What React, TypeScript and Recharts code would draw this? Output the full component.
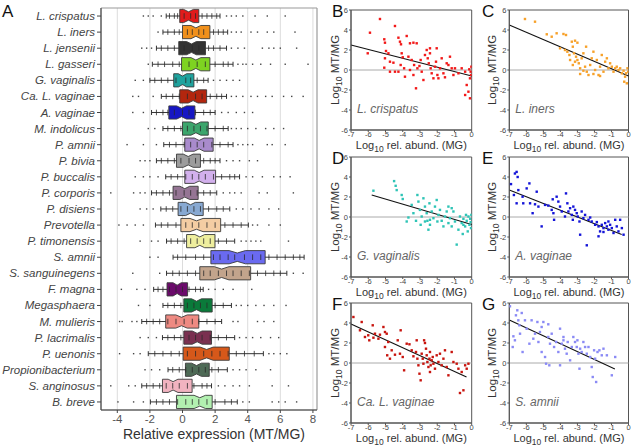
import React from "react";
import {
  BarChart,
  Bar,
  XAxis,
  YAxis,
  CartesianGrid,
  ReferenceArea,
  ReferenceLine,
  ScatterChart,
  Scatter,
} from "recharts";

const FONT = "'Liberation Sans', Arial, Helvetica, sans-serif";

// ---- panel A: relative expression per taxon ----
const species = [
  "L. crispatus", "L. iners", "L. jensenii", "L. gasseri", "G. vaginalis",
  "Ca. L. vaginae", "A. vaginae", "M. indolicus", "P. amnii", "P. bivia",
  "P. buccalis", "P. corporis", "P. disiens", "Prevotella", "P. timonensis",
  "S. amnii", "S. sanguinegens", "F. magna", "Megasphaera", "M. mulieris",
  "P. lacrimalis", "P. uenonis", "Propionibacterium", "S. anginosus", "B. breve",
];

const boxColors = [
  "#e01b1b", "#f0901c", "#333333", "#7ed321", "#1fa39e",
  "#b3260e", "#1717c4", "#3ca56c", "#a98bcc", "#9c9c9c",
  "#d2b0ec", "#957594", "#88a9d2", "#f4cda3", "#eeee9e",
  "#6a6af0", "#c2a48c", "#6b0b6b", "#0a7a3a", "#ee8a82",
  "#7a3050", "#d6581a", "#4e6a56", "#f1b3c0", "#b2f0b0",
];

const q1 = [-0.17, 0.0, -0.23, -0.06, -0.54, -0.17, -0.84, 0.0, 0.14, -0.37, 0.14, -0.58, -0.27, -0.1, 0.25, 1.74, 1.06, -0.95, 0.08, -1.03, 0.08, 0.04, 0.18, -1.23, -0.37];
const median = [0.37, 0.82, 0.55, 0.82, 0.0, 0.65, -0.06, 0.82, 1.02, 0.35, 1.02, 0.14, 0.49, 0.86, 1.06, 3.36, 2.4, -0.33, 0.86, -0.06, 0.9, 1.48, 0.86, -0.58, 1.06];
const q3 = [1.0, 1.68, 1.41, 1.68, 0.7, 1.48, 0.76, 1.58, 1.88, 1.1, 2.03, 0.96, 1.27, 2.34, 1.99, 5.07, 4.18, 0.31, 1.82, 1.0, 1.78, 2.87, 1.64, 0.59, 1.82];
const whiskerLo = [-1.0, -1.2, -1.6, -1.85, -2.0, -1.3, -1.9, -1.2, -1.15, -1.6, -1.03, -1.9, -1.33, -1.66, -0.98, -0.58, -0.98, -1.77, -1.2, -2.5, -1.23, -2.1, -0.89, -2.5, -1.97];
const whiskerHi = [2.3, 2.77, 2.7, 3.1, 1.57, 2.7, 2.0, 2.8, 3.1, 2.3, 3.5, 2.1, 2.9, 4.04, 3.2, 7.46, 6.4, 1.27, 3.0, 2.4, 3.2, 4.96, 2.75, 1.78, 3.36];
const notch = [0.3, 0.3, 0.3, 0.3, 0.25, 0.3, 0.3, 0.3, 0.3, 0.3, 0.3, 0.3, 0.3, 0.4, 0.3, 0.5, 0.45, 0.25, 0.3, 0.35, 0.3, 0.4, 0.3, 0.3, 0.35];

const samplePoints: number[][] = [
  [-2.4, -2.1, -1.8, -1.3, -0.8, -0.5, -0.3, 0.1, 0.5, 0.8, 1.2, 1.5, 1.8, 2.1, 2.7, 3.0, 3.3, 3.7, 4.45, 5.2, 6.3],
  [-1.5, -0.9, -0.5, -0.2, 0.3, 0.6, 1.0, 1.3, 1.9, 2.2, 2.5, 3.0, 3.3, 3.6, 4.2, 4.6, 5.2, 5.6, 6.9],
  [-2.5, -2.2, -1.9, -1.3, -0.9, -0.5, 0.1, 0.6, 1.0, 1.6, 1.9, 2.3, 3.0, 3.4, 3.8, 4.9, 5.3, 5.6, 6.0, 7.0],
  [-2.1, -1.5, -1.1, -0.6, -0.2, 0.4, 0.9, 1.4, 2.0, 2.5, 2.8, 3.4, 3.7, 3.9, 4.3, 4.8, 5.4, 6.3, 7.7],
  [-2.9, -2.4, -1.7, -1.3, -0.9, -0.4, 0.2, 0.5, 0.9, 1.3, 1.9, 2.3, 2.7, 3.1, 3.5],
  [-3.05, -2.7, -1.8, -1.0, -0.6, -0.2, 0.3, 0.8, 1.2, 1.7, 2.1, 2.4, 3.0, 3.3, 3.7, 4.2, 4.6, 5.1, 5.5, 6.2, 6.7, 7.4],
  [-3.05, -2.4, -1.6, -1.2, -0.9, -0.5, 0.0, 0.4, 0.8, 1.3, 1.7, 2.4, 2.8, 3.3, 3.8, 4.3],
  [-2.1, -1.7, -0.9, -0.5, -0.1, 0.3, 0.7, 1.1, 1.5, 2.0, 2.5, 3.0, 3.3, 3.6, 4.0, 4.5, 5.1, 5.6, 6.2],
  [-3.4, -2.4, -1.6, -0.8, -0.4, 0.1, 0.5, 0.9, 1.3, 1.8, 2.3, 2.8, 3.4, 3.7, 4.0, 4.3, 5.2, 5.5, 6.3],
  [-2.6, -2.3, -2.0, -1.3, -0.9, -0.5, -0.1, 0.4, 0.8, 1.3, 1.7, 2.0, 2.7, 3.1, 3.5, 4.1, 4.6],
  [-2.9, -2.4, -2.0, -1.5, -0.7, -0.3, 0.2, 0.6, 1.0, 1.4, 1.9, 2.4, 2.9, 3.2, 3.9, 4.3, 4.9, 5.6, 6.0, 6.6],
  [-4.4, -3.0, -2.6, -2.3, -1.6, -1.2, -0.8, -0.4, 0.1, 0.5, 0.9, 1.3, 1.7, 2.5, 2.9, 3.2, 3.6, 4.7, 5.2, 6.8],
  [-2.6, -2.2, -1.8, -1.0, -0.6, -0.1, 0.3, 0.7, 1.1, 1.6, 2.1, 2.5, 3.3, 3.7, 4.2, 4.7, 5.3, 5.9],
  [-3.9, -3.4, -2.9, -2.4, -1.3, -0.9, -0.4, 0.2, 0.6, 1.0, 1.5, 2.0, 2.6, 3.1, 3.6, 4.3, 4.6, 5.3, 6.0],
  [-2.6, -1.9, -1.5, -0.7, -0.3, 0.1, 0.5, 0.9, 1.3, 1.7, 2.2, 2.7, 3.6, 3.9, 4.2, 4.5, 4.8, 6.5],
  [-2.0, -1.5, -0.3, 0.2, 0.8, 1.3, 1.9, 2.3, 2.8, 3.2, 3.8, 4.3, 4.8, 5.3, 5.8, 6.3, 6.8, 7.2],
  [-3.05, -1.4, -0.6, -0.2, 0.3, 0.8, 1.3, 1.7, 2.2, 2.7, 3.1, 3.6, 4.1, 4.6, 5.1, 5.6, 6.0, 6.8, 7.4],
  [-3.75, -2.8, -2.3, -1.5, -1.2, -0.8, -0.4, 0.0, 0.4, 0.8, 1.1, 1.6, 2.0, 2.5, 3.1, 4.25],
  [-2.7, -2.0, -0.9, -0.5, -0.1, 0.3, 0.7, 1.1, 1.5, 2.0, 2.5, 3.3, 3.6, 4.0, 4.5, 5.0, 5.6, 6.35],
  [-3.86, -3.7, -3.1, -2.8, -2.2, -1.8, -1.4, -0.9, -0.4, 0.1, 0.6, 1.0, 1.5, 2.0, 3.1, 3.4, 4.6, 5.0, 5.6],
  [-2.6, -2.1, -1.6, -0.9, -0.5, -0.1, 0.4, 0.8, 1.2, 1.7, 2.2, 2.7, 3.5, 3.9, 4.3, 4.8, 5.4, 5.9],
  [-3.86, -3.0, -2.6, -1.7, -1.2, -0.7, -0.2, 0.3, 0.8, 1.3, 1.8, 2.3, 2.8, 3.3, 3.8, 4.4, 5.3, 5.6, 6.0, 6.4],
  [-2.3, -1.9, -1.4, -0.6, -0.2, 0.2, 0.6, 1.0, 1.4, 1.8, 2.2, 3.1, 3.5, 3.9, 4.5, 5.4],
  [-4.4, -3.3, -2.9, -2.2, -1.8, -1.4, -1.0, -0.6, -0.2, 0.3, 0.7, 1.2, 1.5, 2.2, 2.6, 3.1, 3.5, 4.1, 5.5, 6.5],
  [-3.96, -3.0, -2.4, -1.6, -1.2, -0.8, -0.3, 0.2, 0.6, 1.0, 1.5, 2.0, 2.6, 3.0, 3.7, 4.1, 5.5, 5.9, 6.3, 7.0],
];

const exprTicks = [-4, -2, 0, 2, 4, 6, 8];

const boxData = species.map((name, i) => ({
  name,
  range: [whiskerLo[i], whiskerHi[i]],
  q1: q1[i],
  med: median[i],
  q3: q3[i],
  notch: notch[i],
  pts: samplePoints[i],
  color: boxColors[i],
}));

// ---- panels B-G: scatter of log MT/MG vs log rel. abundance ----
const crispatusPts: [number, number][] = [
  [-5.32, 5.1], [-5.9, 3.73], [-6.03, 1.67], [-4.45, 4.4], [-5.07, 3.07], [-5.03, 2.73], [-4.97, 1.9],
  [-4.83, 1.67], [-5.03, 1.17], [-5.07, 0.23], [-4.74, 0.83], [-4.54, 0.73], [-4.74, -0.17], [-4.45, -0.17],
  [-4.25, 3.23], [-4.16, 2.83], [-4.1, 2.57], [-4.06, 1.67], [-4.0, 1.27], [-4.12, 0.5], [-3.92, 0.17],
  [-4.25, -0.17], [-3.87, -0.67], [-3.58, 2.67], [-3.38, 2.73], [-3.19, 2.67], [-3.67, 1.33], [-3.48, 1.0],
  [-3.34, 0.5], [-3.58, 0.0], [-3.38, -0.5], [-3.23, -1.83], [-3.15, 0.17], [-3.03, 0.4], [-2.96, 1.0],
  [-2.9, -0.17], [-2.8, -1.0], [-2.71, 1.5], [-2.61, 2.0], [-2.55, 1.17], [-2.49, 0.67], [-2.42, 1.67],
  [-2.38, 0.17], [-2.32, -0.33], [-2.22, -0.83], [-2.13, 0.33], [-2.07, 0.83], [-2.03, 2.17], [-1.99, -0.5],
  [-1.93, -0.83], [-1.84, 0.17], [-1.74, 1.17], [-1.64, -0.33], [-1.55, -0.73], [-1.45, 0.67], [-1.35, 0.5],
  [-1.26, 1.33], [-1.16, 0.17], [-1.06, -0.5], [-0.97, 0.17], [-0.77, -0.33], [-0.58, 0.17], [-0.38, -0.17],
  [-0.29, -1.5], [-0.38, -2.5], [-0.19, -2.17], [-0.1, -2.83], [-0.06, -0.17], [-0.02, 0.33], [-0.04, -0.5],
  [-0.1, -0.83], [-0.14, 0.07], [-2.42, 2.17], [-3.77, 3.4],
];

const inersPts: [number, number][] = [
  [-6.08, 5.1], [-5.49, 4.83], [-4.8, 3.57], [-4.51, 3.33], [-4.22, 3.67], [-3.82, 3.6], [-3.67, 3.5],
  [-4.02, 2.17], [-3.73, 2.0], [-3.59, 1.83], [-3.33, 2.83], [-3.14, 2.93], [-3.0, 2.73], [-3.27, 2.33],
  [-3.2, 1.67], [-3.08, 1.33], [-3.0, 1.0], [-2.92, 0.67], [-2.84, 0.17], [-3.14, 0.83], [-3.27, 0.5],
  [-2.75, 1.17], [-2.65, 1.67], [-2.49, 2.33], [-2.45, -0.17], [-2.35, -0.5], [-2.25, 0.5], [-2.16, 1.17],
  [-2.06, 1.83], [-1.96, 0.0], [-1.86, 1.0], [-1.76, -0.5], [-1.67, 0.33], [-1.57, 1.5], [-1.47, -0.17],
  [-1.37, 0.83], [-1.27, 1.17], [-1.18, 0.17], [-1.08, 0.67], [-0.98, 0.33], [-0.88, -0.17], [-0.78, 0.17],
  [-0.69, 0.33], [-0.59, 0.0], [-0.49, 0.17], [-0.39, -0.33], [-0.29, -0.07], [-0.2, -0.67], [-0.14, -0.33],
  [-0.1, -1.33], [-0.25, -1.17], [-0.06, 0.17], [-0.02, -0.17], [-2.84, -0.4], [-2.65, -0.07], [-2.06, -0.4],
  [-1.67, -0.6], [-2.55, 0.33], [-3.43, 1.0], [-3.47, 1.5],
];

const vaginalisPts: [number, number][] = [
  [-5.7, 2.63], [-4.5, 3.59], [-4.41, 3.12], [-4.35, 2.69], [-4.06, 2.2], [-4.0, 1.8], [-3.67, -0.05],
  [-3.48, 1.21], [-3.38, 0.38], [-3.23, -0.38], [-3.15, 2.2], [-3.09, 1.54], [-3.0, 0.71], [-2.96, -0.78],
  [-2.9, 0.05], [-2.8, 1.87], [-2.71, 1.04], [-2.61, 0.38], [-2.57, -0.38], [-2.51, -1.27], [-2.45, 1.37],
  [-2.42, -0.78], [-2.32, 0.55], [-2.22, -0.12], [-2.13, 1.04], [-2.03, 1.7], [-1.99, -0.45], [-1.93, 0.21],
  [-1.84, 0.71], [-1.74, -0.38], [-1.64, -0.94], [-1.55, 0.05], [-1.45, 0.55], [-1.35, 1.04], [-1.26, -0.12],
  [-1.16, 0.88], [-1.06, 0.55], [-0.97, -0.45], [-0.87, -2.76], [-0.77, -1.27], [-0.68, 0.05], [-0.58, -0.61],
  [-0.52, -1.7], [-0.48, -0.18], [-0.38, -0.94], [-0.33, 0.21], [-0.29, -0.38], [-0.23, -1.44], [-0.19, 0.05],
  [-0.13, -0.78], [-0.09, -0.18], [-0.06, -0.51], [-0.02, 0.21], [-0.04, -1.11], [-1.35, -0.61], [-1.16, -0.94],
  [-2.42, -0.28], [-2.71, -0.45], [-3.77, -0.45], [-0.48, -0.78],
];

const avaginaePts: [number, number][] = [
  [-6.9, 3.29], [-6.67, 4.35], [-6.57, 4.51], [-6.51, 4.0], [-6.73, 2.2], [-6.47, 2.69], [-6.57, 1.37],
  [-6.18, 1.37], [-6.22, 2.03], [-5.98, 2.86], [-5.82, 3.36], [-5.78, 1.37], [-5.49, 1.27], [-5.63, 0.38],
  [-5.39, 2.53], [-5.1, -0.94], [-5.29, 1.04], [-4.9, 1.21], [-4.71, 1.14], [-4.51, 0.71], [-4.45, 1.77],
  [-4.41, 0.38], [-4.37, -0.28], [-4.22, 2.03], [-4.12, 1.54], [-4.02, 1.04], [-3.92, 0.55], [-3.73, 0.05],
  [-3.67, 2.36], [-3.59, 1.37], [-3.53, 0.55], [-3.43, 0.88], [-3.33, 0.21], [-3.27, -0.28], [-3.24, 1.04],
  [-3.14, 0.71], [-3.04, 0.38], [-2.98, 0.05], [-2.88, -0.45], [-2.84, -1.77], [-2.75, 0.55], [-2.65, -0.12],
  [-2.55, 0.21], [-2.45, -2.83], [-2.35, -0.28], [-2.25, -0.05], [-2.16, -0.45], [-1.96, -0.78], [-1.86, -0.51],
  [-1.76, -0.94], [-1.67, -1.44], [-1.57, -0.78], [-1.47, -1.11], [-1.37, -0.61], [-1.27, -0.94], [-1.18, -1.27],
  [-1.08, -0.78], [-0.98, -1.11], [-0.88, -1.6], [-0.78, -0.28], [-0.69, -0.94], [-0.59, -1.44], [-0.49, -0.28],
  [-0.39, -1.11], [-0.29, -1.77], [-1.76, -1.93], [-1.47, -1.5], [-1.18, -0.45],
];

const lvaginaePts: [number, number][] = [
  [-6.86, 4.6], [-6.38, 4.1], [-6.48, 3.27], [-6.19, 2.6], [-6.0, 2.77], [-5.94, 2.27], [-5.74, 3.77],
  [-5.7, 2.53], [-5.61, 2.93], [-5.41, 2.43], [-5.32, 2.83], [-5.12, 3.6], [-5.03, 3.1], [-4.93, 2.93],
  [-4.84, 2.1], [-5.03, 1.6], [-4.9, 0.77], [-4.74, 0.43], [-4.64, 1.27], [-4.45, 0.83], [-4.29, 2.27],
  [-4.12, 3.27], [-4.16, 0.93], [-4.0, 0.6], [-3.92, -0.73], [-3.77, 1.93], [-3.61, 1.87], [-3.48, 1.27],
  [-3.38, 0.67], [-3.23, 1.1], [-3.15, 0.43], [-3.09, -0.23], [-3.03, -1.07], [-2.96, -1.73], [-2.9, 0.93],
  [-2.84, 0.43], [-2.8, -0.07], [-2.76, 2.27], [-2.71, 2.0], [-2.65, 1.43], [-2.61, 0.77], [-2.57, 0.1],
  [-2.51, -0.4], [-2.45, 0.43], [-2.42, 1.1], [-2.38, -0.23], [-2.32, 0.27], [-2.26, 0.6], [-2.22, -0.07],
  [-2.13, -0.57], [-2.03, 0.77], [-1.93, 0.1], [-1.84, 0.93], [-1.74, -0.23], [-1.64, 0.43], [-1.55, 1.27],
  [-1.45, -0.4], [-1.35, -1.23], [-1.16, 1.1], [-1.06, 0.1], [-0.87, -0.07], [-0.77, -0.57], [-0.68, -3.0],
  [-0.58, -0.9], [-0.48, -2.73], [-0.38, -0.23], [-0.29, -0.57], [-0.19, -0.07], [-3.19, 2.27], [-2.42, -0.9],
];

const samniiPts: [number, number][] = [
  [-6.96, 5.67], [-6.76, 2.67], [-6.8, 1.6], [-6.67, 2.27], [-6.61, 4.77], [-6.53, 5.27], [-6.47, 4.27],
  [-6.41, 3.77], [-6.27, 5.0], [-6.37, 2.93], [-6.22, 1.1], [-6.08, 4.27], [-5.98, 3.43], [-5.82, 1.93],
  [-5.69, 4.27], [-5.59, 2.43], [-5.49, 2.93], [-5.35, 4.1], [-5.29, 2.1], [-5.2, 3.1], [-5.1, 3.6],
  [-5.0, 4.1], [-5.1, 1.1], [-4.9, 0.6], [-4.84, -0.07], [-4.71, 3.87], [-4.65, -0.23], [-4.61, 1.93],
  [-4.51, 2.93], [-4.37, 1.6], [-4.25, 2.1], [-4.12, 1.1], [-4.02, 3.43], [-4.02, -0.23], [-3.92, 1.93],
  [-3.82, 2.6], [-3.73, 1.43], [-3.63, 0.93], [-3.57, 2.1], [-3.43, 0.27], [-3.33, 1.6], [-3.24, 2.6],
  [-3.14, 2.1], [-3.04, 1.6], [-3.0, 2.27], [-2.94, 0.93], [-2.88, -0.57], [-2.84, 1.43], [-2.75, 1.1],
  [-2.65, 2.1], [-2.55, 1.6], [-2.45, 0.93], [-2.35, 1.6], [-2.25, 0.6], [-2.16, -0.4], [-2.1, -1.4],
  [-2.02, 1.27], [-1.9, -1.9], [-1.96, 0.43], [-1.82, 1.1], [-1.71, 1.27], [-1.57, 0.77], [-1.47, 1.43],
  [-1.27, 0.77], [-0.98, -1.23], [-0.78, 0.6], [-3.82, 2.27], [-4.71, 2.6],
];

const fitB = [{ x: -7, y: 2.5 }, { x: 0, y: -0.6 }];
const fitC = [{ x: -7, y: 4.5 }, { x: 0, y: -0.6 }];
const fitD = [{ x: -5.8, y: 2.2 }, { x: 0, y: -0.75 }];
const fitE = [{ x: -7, y: 2.7 }, { x: -0.4, y: -1.75 }];
const fitF = [{ x: -7, y: 3.9 }, { x: -0.3, y: -1.4 }];
const fitG = [{ x: -7, y: 4.3 }, { x: -0.8, y: -0.6 }];

const abundTicks = [-7, -6, -5, -4, -3, -2, -1, 0];
const ratioTicks = [-6, -4, -2, 0, 2, 4, 6];

const BoxShape = (props: any) => {
  const { x, y, width, height, payload } = props;
  const [lo, hi] = payload.range;
  const sx = (v: number) => x + ((v - lo) * width) / (hi - lo);
  const cy = y + height / 2;
  const h = 6.6;
  const d = 2.4;
  const a = sx(payload.q1);
  const e = sx(payload.q3);
  const b = Math.max(a, sx(payload.med - payload.notch));
  const c = Math.min(e, sx(payload.med + payload.notch));
  const m = sx(payload.med);
  const poly = [
    [a, cy - h], [b, cy - h], [m, cy - h + d], [c, cy - h], [e, cy - h],
    [e, cy + h], [c, cy + h], [m, cy + h - d], [b, cy + h], [a, cy + h],
  ].map((p) => p.join(",")).join(" ");
  return (
    <g>
      <line x1={x} x2={x + width} y1={cy} y2={cy} stroke="#333" strokeWidth={1} />
      <line x1={x} x2={x} y1={cy - 2.5} y2={cy + 2.5} stroke="#333" />
      <line x1={x + width} x2={x + width} y1={cy - 2.5} y2={cy + 2.5} stroke="#333" />
      <polygon points={poly} fill={payload.color} stroke="#3a3a3a" strokeWidth={0.9} />
      {payload.pts.map((v: number, k: number) => {
        const px = sx(v);
        const inside = v >= lo && v <= hi;
        return inside ? (
          <line key={k} x1={px} x2={px} y1={cy - 2.8} y2={cy + 2.8} stroke="#2a2a2a" strokeWidth={0.8} />
        ) : (
          <rect key={k} x={px - 0.7} y={cy - 0.7} width={1.4} height={1.4} fill="#444" />
        );
      })}
    </g>
  );
};

const SpeciesTick = (props: any) => {
  const { x, y, payload } = props;
  return (
    <text x={x} y={y} dy={4} textAnchor="end" fontSize={11.5} fill="#444" fontStyle="italic" fontFamily={FONT}>
      {payload.value}
    </text>
  );
};

const Dot = (props: any) => {
  const { cx, cy, fill } = props;
  return <rect x={cx - 1.2} y={cy - 1.2} width={2.4} height={2.4} fill={fill} />;
};

type PanelProps = {
  left: number;
  top: number;
  width: number;
  yWidth: number;
  right: number;
  pts: [number, number][];
  color: string;
  fit: { x: number; y: number }[];
};

const ScatterPanel = ({ left, top, width, yWidth, right, pts, color, fit }: PanelProps) => {
  const data = pts.map(([x, y]) => ({ x, y }));
  return (
    <div style={{ position: "absolute", left, top }}>
      <ScatterChart width={width} height={150} margin={{ top: 10, right, bottom: 0, left: 0 }}>
        <XAxis
          type="number"
          dataKey="x"
          domain={[-7, 0]}
          ticks={abundTicks}
          interval={0}
          allowDataOverflow
          height={20}
          tickSize={2}
          tickMargin={0}
          tick={{ fontSize: 7.5, fill: "#444", fontFamily: FONT }}
          axisLine={{ stroke: "#555" }}
          tickLine={{ stroke: "#555" }}
        />
        <YAxis
          type="number"
          dataKey="y"
          domain={[-6, 6]}
          ticks={ratioTicks}
          interval={0}
          allowDataOverflow
          width={yWidth}
          tickSize={2}
          tickMargin={1}
          tick={{ fontSize: 7.5, fill: "#444", fontFamily: FONT }}
          axisLine={{ stroke: "#555" }}
          tickLine={{ stroke: "#555" }}
        />
        <ReferenceLine y={0} stroke="#aaaaaa" strokeWidth={1} />
        <ReferenceArea x1={-7} x2={0} y1={-6} y2={6} fill="none" stroke="#555" strokeWidth={1} />
        <Scatter data={data} fill={color} shape={<Dot />} isAnimationActive={false} />
        <ReferenceLine segment={fit} stroke="#111" strokeWidth={1.1} />
      </ScatterChart>
    </div>
  );
};

const Log10 = ({ rest }: { rest: string }) => (
  <>
    <tspan>Log</tspan>
    <tspan fontSize={8.5} dy={3}>10</tspan>
    <tspan dy={-3}>{rest}</tspan>
  </>
);

const panels = [
  { letter: "B", name: "L. crispatus", left: 330, top: 0, width: 150, yWidth: 21, right: 8.3, pts: crispatusPts, color: "#f21818", fit: fitB },
  { letter: "C", name: "L. iners", left: 480, top: 0, width: 151, yWidth: 29.3, right: 2.5, pts: inersPts, color: "#f7a12a", fit: fitC },
  { letter: "D", name: "G. vaginalis", left: 330, top: 147, width: 150, yWidth: 21, right: 8.3, pts: vaginalisPts, color: "#2ec4b6", fit: fitD },
  { letter: "E", name: "A. vaginae", left: 480, top: 147, width: 151, yWidth: 29.3, right: 2.5, pts: avaginaePts, color: "#1414d8", fit: fitE },
  { letter: "F", name: "Ca. L. vaginae", left: 330, top: 293, width: 150, yWidth: 21, right: 8.3, pts: lvaginaePts, color: "#c8140e", fit: fitF },
  { letter: "G", name: "S. amnii", left: 480, top: 293, width: 151, yWidth: 29.3, right: 2.5, pts: samniiPts, color: "#8a8af5", fit: fitG },
];

export default function App() {
  return (
    <div style={{ position: "absolute", left: 0, top: 0, width: 631, height: 446, background: "#fff", fontFamily: FONT }}>
      <div style={{ position: "absolute", left: 0, top: 0 }}>
        <BarChart
          layout="vertical"
          width={330}
          height={446}
          data={boxData}
          margin={{ top: 8, right: 13, bottom: 0, left: 0 }}
          barCategoryGap={0}
        >
          <CartesianGrid horizontal={false} stroke="#dcdcdc" />
          <XAxis
            type="number"
            domain={[-5, 8.25]}
            ticks={exprTicks}
            interval={0}
            allowDataOverflow
            height={36}
            tickSize={3}
            tick={{ fontSize: 11.5, fill: "#555", fontFamily: FONT }}
            axisLine={{ stroke: "#444" }}
            tickLine={{ stroke: "#444" }}
          />
          <YAxis
            type="category"
            dataKey="name"
            width={101}
            interval={0}
            tickSize={4}
            tick={<SpeciesTick />}
            axisLine={{ stroke: "#444" }}
            tickLine={{ stroke: "#444" }}
          />
          <ReferenceArea x1={-5} x2={8.25} fill="none" stroke="#999" strokeWidth={1} />
          <Bar dataKey="range" shape={<BoxShape />} isAnimationActive={false} />
        </BarChart>
      </div>

      {panels.map((p) => (
        <ScatterPanel key={p.letter} {...p} />
      ))}

      <svg
        width={631}
        height={446}
        style={{ position: "absolute", left: 0, top: 0, pointerEvents: "none" }}
        fontFamily={FONT}
      >
        <text x={2} y={17} fontSize={17} fill="#111">A</text>
        <text x={214} y={439} fontSize={14} fill="#333" textAnchor="middle">
          Relative expression (MT/MG)
        </text>
        {panels.map((p) => {
          const plotLeft = p.left + p.yWidth;
          const plotRight = p.left + p.width - p.right;
          const plotTop = p.top + 10;
          const midX = (plotLeft + plotRight) / 2;
          const midY = plotTop + 60;
          const ylx = p.left === 330 ? 339 : 496;
          return (
            <g key={p.letter}>
              <text x={p.left + 2} y={p.top + 17} fontSize={17} fill="#111">{p.letter}</text>
              <text x={plotLeft + 6} y={plotTop + 103} fontSize={12} fill="#666" fontStyle="italic">
                {p.name}
              </text>
              <text x={midX} y={plotTop + 139} fontSize={11} fill="#333" textAnchor="middle">
                <Log10 rest=" rel. abund. (MG)" />
              </text>
              <text
                x={ylx}
                y={midY}
                fontSize={11.5}
                fill="#333"
                textAnchor="middle"
                transform={`rotate(-90 ${ylx} ${midY})`}
              >
                <Log10 rest=" MT/MG" />
              </text>
            </g>
          );
        })}
      </svg>
    </div>
  );
}
